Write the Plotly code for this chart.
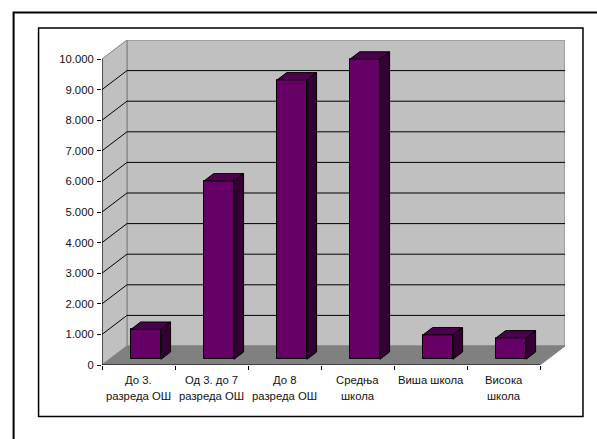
import plotly.graph_objects as go

W, H = 597, 439
L, R, T, B = 101.5, 565.0, 40.0, 365.0

line1 = ["До 3.", "Од 3. до 7", "До 8", "Средња", "Виша школа", "Висока"]
line2 = ["разреда ОШ", "разреда ОШ", "разреда ОШ", "школа", "", "школа"]
values = [980, 5830, 9130, 9810, 800, 700]
y_ticks = [0, 1000, 2000, 3000, 4000, 5000, 6000, 7000, 8000, 9000, 10000]
y_labels = ["0", "1.000", "2.000", "3.000", "4.000", "5.000", "6.000", "7.000", "8.000", "9.000", "10.000"]

FRONT, TOP_C, SIDE = "#660066", "#4D004D", "#330033"
WALL, FLOOR, EDGE = "#C0C0C0", "#808080", "#808080"

N = len(values)
cat_px = 438.5 / N
val_px = 306 / 10000
DX = 25 / cat_px       # depth offset, category units
DY = 19 / val_px       # depth offset, value units
BW = 0.41
D0, D1 = 0.30, 0.685
x_max = -0.5 + (R - L) / cat_px
y_max = (B - T) / val_px


def proj(x, v, d):
    return x + DX * d, v + DY * d


def path(pts):
    return "M" + " L".join(f"{a},{b}" for a, b in pts) + " Z"


shapes = []
x0, x1 = -0.5, N - 0.5
wall_style = dict(xref="x", yref="y", layer="below", line=dict(color=EDGE, width=1))
# back wall, side wall, floor
shapes.append(dict(type="path", path=path([proj(x0, 0, 1), proj(x1, 0, 1), proj(x1, 10000, 1), proj(x0, 10000, 1)]), fillcolor=WALL, **wall_style))
shapes.append(dict(type="path", path=path([proj(x0, 0, 0), proj(x0, 0, 1), proj(x0, 10000, 1), proj(x0, 10000, 0)]), fillcolor=WALL, **wall_style))
shapes.append(dict(type="path", path=path([proj(x0, 0, 0), proj(x1, 0, 0), proj(x1, 0, 1), proj(x0, 0, 1)]), fillcolor=FLOOR, **wall_style))
# gridlines on the side and back walls
for v in y_ticks[1:-1]:
    a = proj(x0, v, 0); b = proj(x0, v, 1); c = proj(x1, v, 1)
    shapes.append(dict(type="path", path=f"M{a[0]},{a[1]} L{b[0]},{b[1]} L{c[0]},{c[1]}",
                       xref="x", yref="y", layer="below", line=dict(color="black", width=1)))

W_plot = R - L
H_plot = B - T


def px_x(p):
    return (p - L) / W_plot


def px_y(p):
    return (B - p) / H_plot


# outer frames (pixel placed)
shapes.append(dict(type="rect", xref="paper", yref="paper", x0=px_x(13), x1=px_x(610), y0=px_y(12.5), y1=px_y(450),
                   line=dict(color="black", width=2), layer="below"))
shapes.append(dict(type="rect", xref="paper", yref="paper", x0=px_x(38), x1=px_x(583), y0=px_y(28), y1=px_y(416.5),
                   line=dict(color="black", width=1.5), layer="below"))

fig = go.Figure()
xs = list(range(N))
fig.add_trace(go.Bar(x=[i + DX * D0 for i in xs], y=values, base=[DY * D0] * N, width=BW,
                     marker=dict(color=FRONT, line=dict(color="black", width=1)), hoverinfo="skip"))

for i, v in zip(xs, values):
    l, r = i - BW / 2, i + BW / 2
    top = [proj(l, v, D0), proj(r, v, D0), proj(r, v, D1), proj(l, v, D1), proj(l, v, D0)]
    side = [proj(r, 0, D0), proj(r, 0, D1), proj(r, v, D1), proj(r, v, D0), proj(r, 0, D0)]
    for pts, col in ((top, TOP_C), (side, SIDE)):
        fig.add_trace(go.Scatter(x=[p[0] for p in pts], y=[p[1] for p in pts], mode="lines", fill="toself",
                                 fillcolor=col, line=dict(color="black", width=1), hoverinfo="skip"))

font = dict(family="Liberation Sans, Arial, sans-serif", size=11.3, color="#111111")
ann = []
for i, (a, b) in enumerate(zip(line1, line2)):
    ann.append(dict(x=i, y=px_y(380), xref="x", yref="paper", text=a, showarrow=False, font=font, yanchor="middle"))
    if b:
        ann.append(dict(x=i, y=px_y(396), xref="x", yref="paper", text=b, showarrow=False, font=font, yanchor="middle"))

fig.update_layout(
    width=W, height=H, showlegend=False, paper_bgcolor="white", plot_bgcolor="rgba(0,0,0,0)",
    margin=dict(l=L, r=W - R, t=T, b=H - B, pad=0, autoexpand=False),
    shapes=shapes, annotations=ann, font=font, bargap=0,
    xaxis=dict(range=[-0.5, x_max], tickvals=[x0 + k for k in range(N + 1)], ticktext=[""] * (N + 1),
               ticks="outside", ticklen=4, tickcolor="black", showgrid=False, zeroline=False, showline=False,
               fixedrange=True),
    yaxis=dict(range=[0, y_max], tickvals=y_ticks, ticktext=y_labels, ticks="outside", ticklen=4, tickcolor="black",
               showgrid=False, zeroline=False, showline=False, tickfont=font, ticklabelstandoff=1, fixedrange=True),
)
# front edges of the walls, drawn on the axis scales
fig.add_trace(go.Scatter(x=[x0, x0, x1], y=[10000, 0, 0], mode="lines", line=dict(color="black", width=1),
                         hoverinfo="skip", cliponaxis=False))
fig.write_html("out.html", post_script="document.body.style.margin='0';", config=dict(displayModeBar=False))
